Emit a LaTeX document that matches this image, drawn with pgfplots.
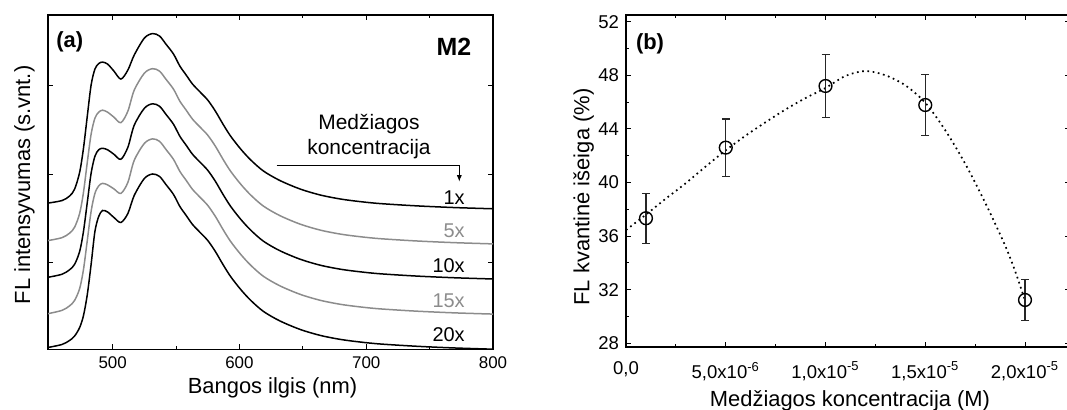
\documentclass[border=0pt]{standalone}
\usepackage{fontspec}
\setmainfont{Liberation Sans}
\usepackage{pgfplots}
\pgfplotsset{compat=1.18}
\usepackage{pgfplotstable}
\usetikzlibrary{arrows.meta}

\definecolor{grayline}{RGB}{140,140,140}

% FL spectra, offset for each concentration (arbitrary units)
\pgfplotstableread{
x     a     b     c     d     e
449   146.4 108.9 72.2  35.8  2
460   148.9 111.8 75.2  39.1  5
466   153.4 116.3 79.7  43.6  9
470   160.4 122.3 85.2  49.1  13.5
474   177.4 136.3 98.2  61.1  22
477   201.4 157.3 118.2 80.1  34
480   233.4 187.3 147.2 109.1 55
483   264.4 215.3 176.2 138.1 85
486   280.4 231.3 193.2 156.1 118
489   285.9 237.3 199.7 163.6 133
492   287.4 239.3 201.2 166.1 139
496   285.4 237.3 199.7 164.6 137.5
501   278.4 232.3 195.2 160.6 132
506.5 270.4 226.8 190.2 156.1 127
512   279.4 238.3 202.2 167.1 136
517   294.4 259.3 224.2 189.1 154
525   311.4 276.3 241.2 206.1 171
531.5 315.9 280.8 245.7 210.6 175.5
537   313.4 278.3 243.2 208.1 173
542   305.4 270.3 235.2 200.1 165
548   295.4 260.3 225.2 190.1 155
553   283.4 248.3 213.2 178.1 143
558   274.4 239.3 204.2 169.1 134
563   265.4 230.3 195.2 160.1 125
569   257.4 222.3 187.2 152.1 117
575   249.4 214.3 179.2 144.1 109
581   238.4 203.3 168.2 133.1 98
587   225.4 190.3 155.2 120.1 85
593   213.4 178.3 143.2 108.1 73
601   200.4 165.3 130.2 95.1  60
609   189.4 154.3 119.2 84.1  49
619   178.4 143.3 108.2 73.1  38
632   168.9 133.8 98.7  63.6  28.5
648   160.4 125.3 90.2  55.1  20
664   154.4 119.3 84.2  49.1  14
680   150.4 115.3 80.2  45.1  10
695   147.9 112.8 77.7  42.6  7.5
711   145.9 110.8 75.7  40.6  5.5
740   143.6 108.5 73.4  38.3  3.2
770   141.9 106.8 71.7  36.6  1.5
800   140.7 105.6 70.5  35.4  0.3
}\spectra

% quantum yield vs concentration
\pgfplotstableread{
x       y      ey
1e-6    37.33  1.87
5e-6    42.6   2.13
1e-5    47.2   2.33
1.5e-5  45.78  2.29
2e-5    31.23  1.55
}\yield

% guide line
\pgfplotstableread{
x       y
0       36.45
1e-6    37.6
2e-6    38.8
3e-6    39.95
4e-6    41.2
5e-6    42.4
6e-6    43.5
7e-6    44.5
8e-6    45.45
9e-6    46.3
1e-5    47.05
1.1e-5  47.95
1.2e-5  48.32
1.3e-5  48.0
1.4e-5  47.25
1.5e-5  45.95
1.6e-5  43.9
1.7e-5  41.4
1.8e-5  38.5
1.9e-5  35.3
1.95e-5 33.4
2e-5    31.2
}\guide

\pgfplotsset{
  panel/.style={
    scale only axis, anchor=south west,
    axis line style={line width=0.6bp},
    tick style={line width=0.5bp, black},
    tick align=inside,
    major tick length=2.6bp, minor tick length=1.5bp,
    tick label style={font=\fontsize{8.5}{10}\selectfont},
    /pgf/number format/assume math mode=true,
  }
}

\begin{document}
\begin{tikzpicture}[x=0.5bp,y=0.5bp]
\useasboundingbox (0,0) rectangle (1067,410);

% (a) spectra
\begin{axis}[panel, at={(24bp,30.25bp)}, width=222.5bp, height=167.25bp,
  xmin=449, xmax=800, ymin=0, ymax=334.5,
  xtick={500,600,700,800}, minor xtick={550,650,750},
  ytick={86.8,175.2,263.5}, yticklabels={},
]
  \addplot[black, line width=0.75bp, smooth] table[x=x,y=a]{\spectra};
  \addplot[grayline, line width=0.75bp, smooth] table[x=x,y=b]{\spectra};
  \addplot[black, line width=0.75bp, smooth] table[x=x,y=c]{\spectra};
  \addplot[grayline, line width=0.75bp, smooth] table[x=x,y=d]{\spectra};
  \addplot[black, line width=0.75bp, smooth] table[x=x,y=e]{\spectra};
\end{axis}

% (b) quantum yield
\begin{axis}[panel, at={(313bp,31.5bp)}, width=222bp, height=166bp,
  xmin=0, xmax=2.2256e-5, ymin=27.72, ymax=52.5,
  tick label style={font=\fontsize{9.3}{11}\selectfont},
  xticklabel style={yshift=-4bp},
  scaled x ticks=false,
  xtick={0,5e-6,1e-5,1.5e-5,2e-5},
  xticklabels={{0,0},{5,0x10\textsuperscript{-6}},{1,0x10\textsuperscript{-5}},{1,5x10\textsuperscript{-5}},{2,0x10\textsuperscript{-5}}},
  minor xtick={2.5e-6,7.5e-6,1.25e-5,1.75e-5},
  ytick={28,32,...,52}, minor ytick={30,34,...,50},
]
  \addplot[black, line width=0.85bp, dash pattern=on 0.85bp off 1.8bp, smooth] table[x=x,y=y]{\guide};
  \addplot[black, only marks, mark=o, mark size=3.2bp, mark options={line width=0.7bp},
    error bars/.cd, y dir=both, y explicit,
    error bar style={line width=0.6bp, black!85},
    error mark options={rotate=90, line width=0.6bp, mark size=2bp, black!85}]
    table[x=x, y=y, y error=ey]{\yield};
\end{axis}

% axis labels
\node[rotate=90, anchor=base, font=\fontsize{11}{13}\selectfont] at (30,225) {FL intensyvumas (s.vnt.)};
\node[anchor=base, font=\fontsize{11}{13}\selectfont] at (272.5,16.7) {Bangos ilgis (nm)};
\node[rotate=90, anchor=base, font=\fontsize{11}{13}\selectfont] at (589.3,213) {FL kvantinė išeiga (\%)};
\node[anchor=base, font=\fontsize{11}{13}\selectfont] at (850,3.5) {Medžiagos koncentracija (M)};

% panel annotations
\node[font=\fontsize{11}{13}\bfseries] at (69.7,368.3) {(a)};
\node[font=\fontsize{12.5}{14}\bfseries] at (454,363.3) {M2};
\node[font=\fontsize{11}{13}\bfseries] at (650,366) {(b)};
\node[anchor=base, font=\fontsize{10.5}{12}\selectfont] at (369,280) {Medžiagos};
\node[anchor=base, font=\fontsize{10.5}{12}\selectfont] at (369,255) {koncentracija};
\draw[line width=0.5bp, -{Latex[length=3.3bp,width=2.6bp]}] (276.7,244.5) -- (459.3,244.5) -- (459.3,228.3);
\node[anchor=base east, font=\fontsize{10}{12}\selectfont] at (471.7,205) {1x};
\node[anchor=base east, font=\fontsize{10}{12}\selectfont, text=grayline] at (471.7,172.7) {5x};
\node[anchor=base east, font=\fontsize{10}{12}\selectfont] at (471.7,137.7) {10x};
\node[anchor=base east, font=\fontsize{10}{12}\selectfont, text=grayline] at (471.7,102.7) {15x};
\node[anchor=base east, font=\fontsize{10}{12}\selectfont] at (471.7,68.3) {20x};
\end{tikzpicture}
\end{document}
